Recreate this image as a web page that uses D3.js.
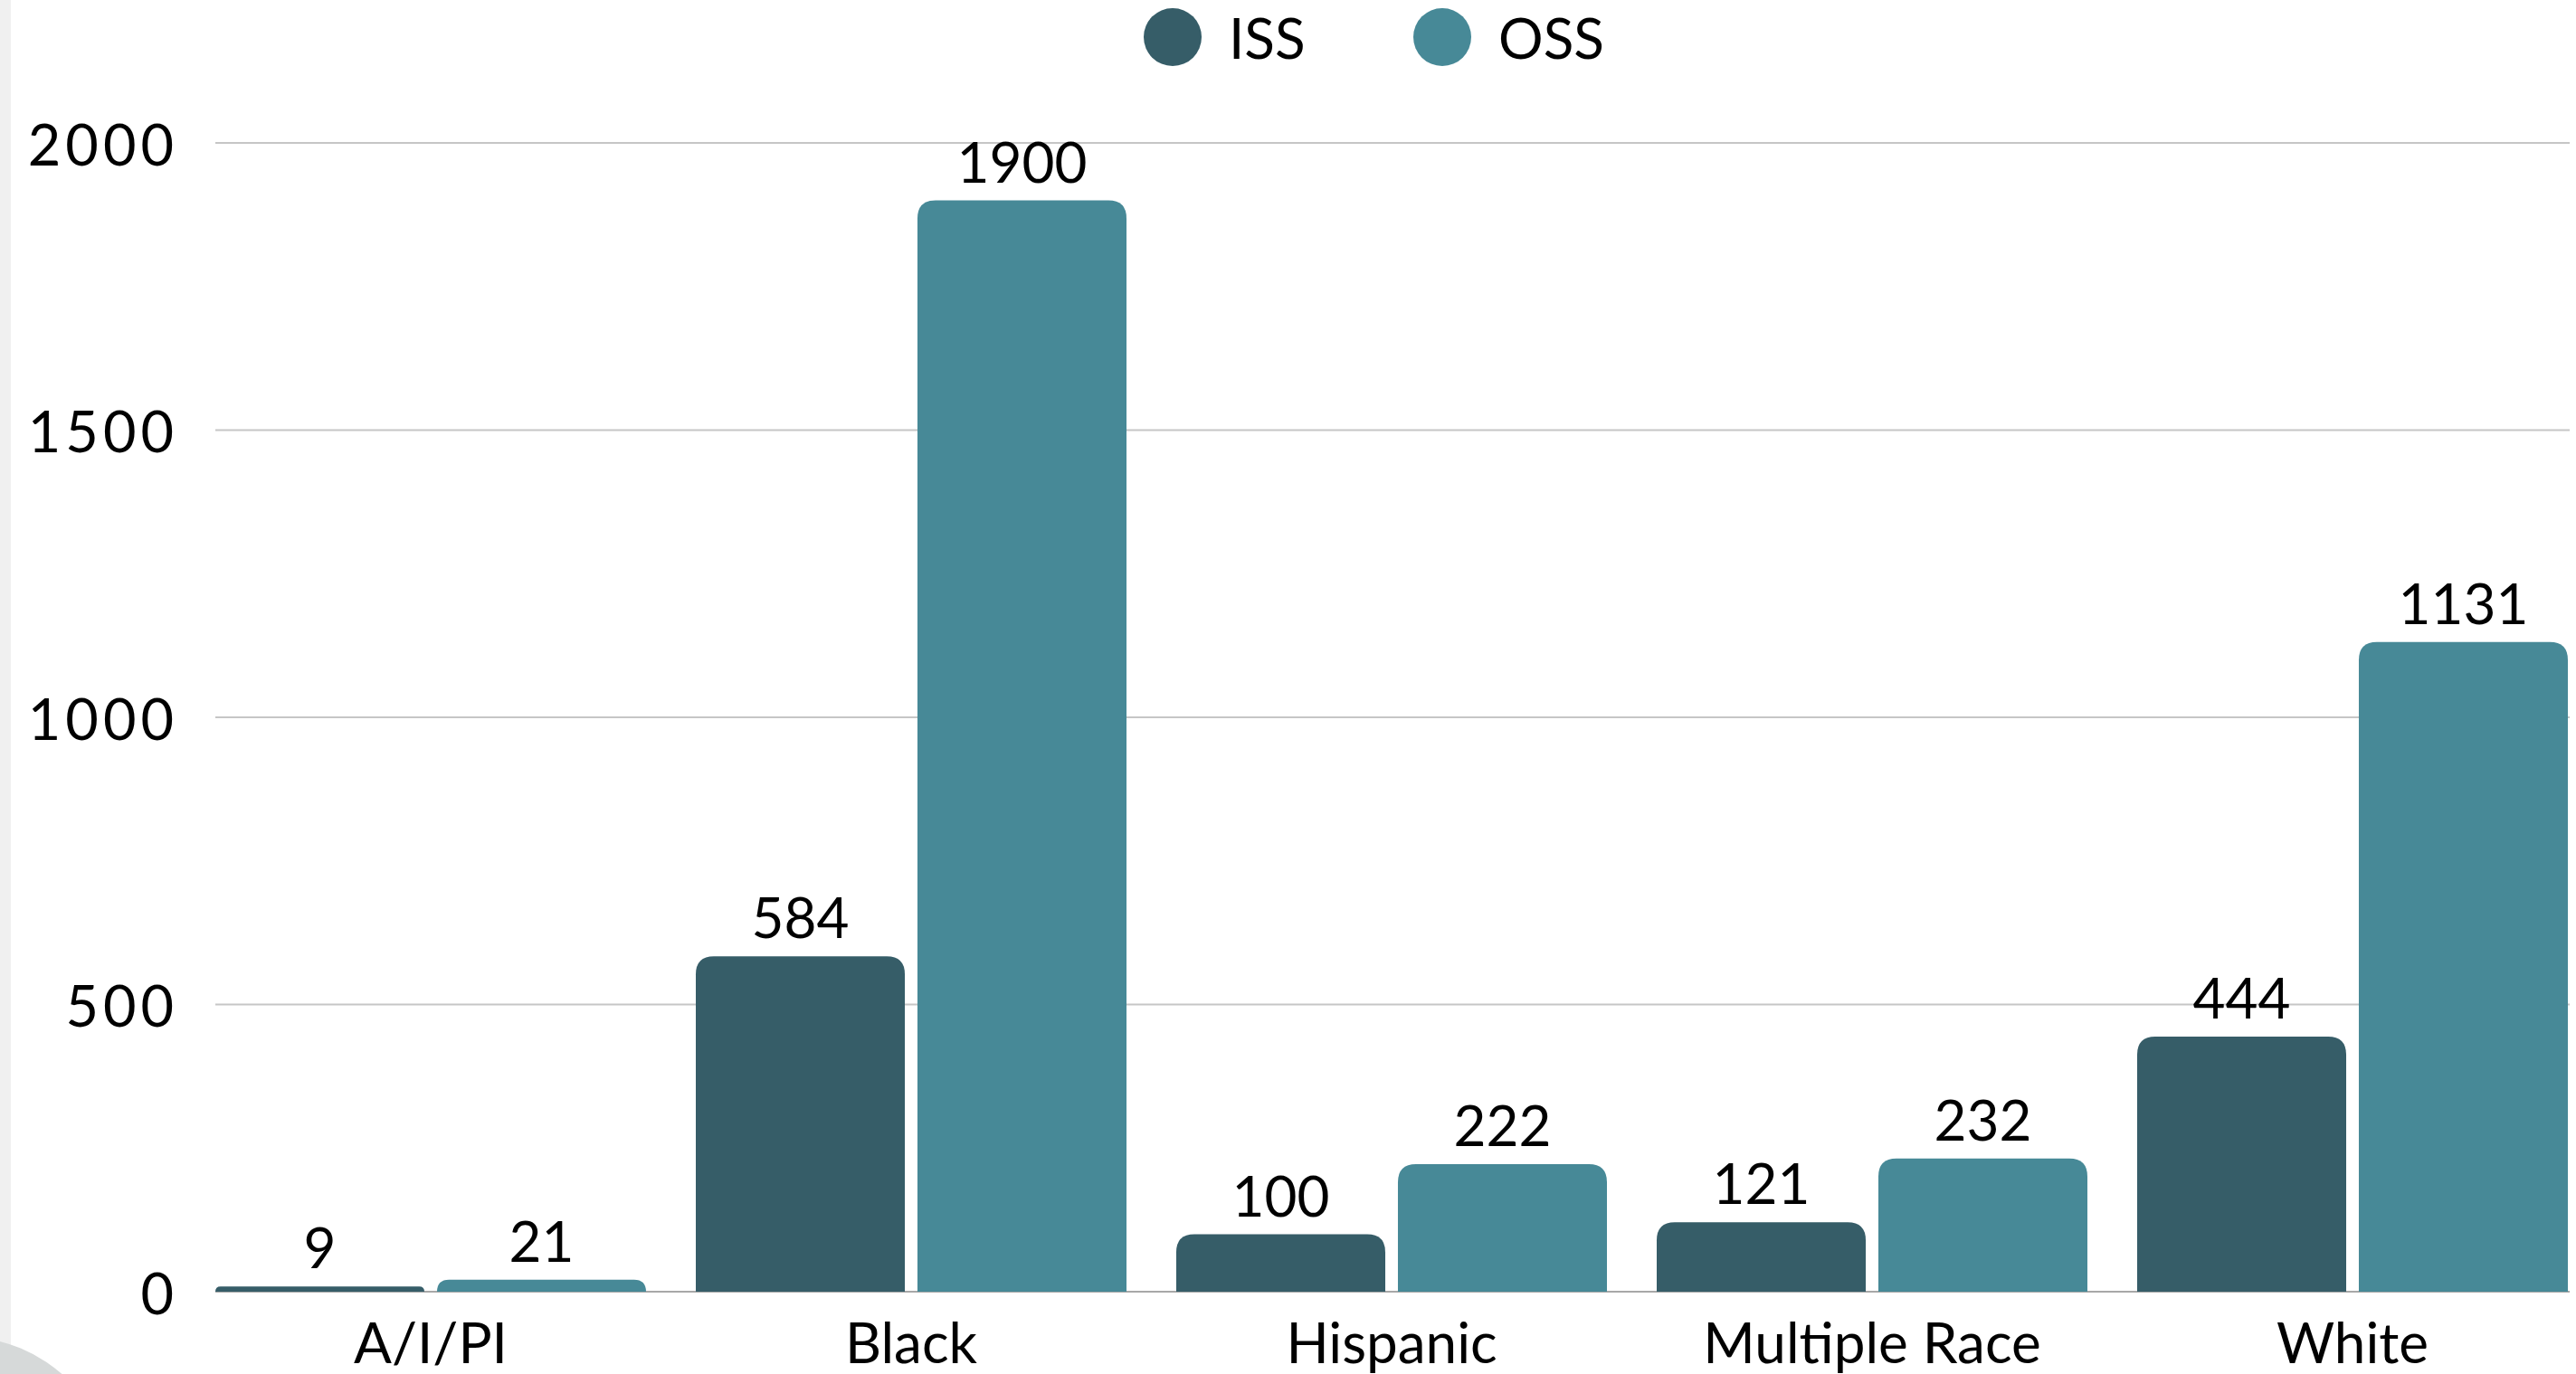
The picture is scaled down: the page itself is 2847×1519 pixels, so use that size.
<!DOCTYPE html>
<html>
<head>
<meta charset="utf-8">
<script src="https://cdn.jsdelivr.net/npm/d3@7"></script>
<style>
  html, body { margin: 0; padding: 0; background: #ffffff; }
  svg { display: block; font-family: Lato, "Open Sans", sans-serif; }
</style>
</head>
<body>
<svg id="chart" width="2847" height="1519"></svg>
<script>
// Suspensions by race: in-school (ISS) vs out-of-school (OSS)
const categories = ["A/I/PI", "Black", "Hispanic", "Multiple Race", "White"];
const seriesNames = ["ISS", "OSS"];
const issValues = [9, 584, 100, 121, 444];
const ossValues = [21, 1900, 222, 232, 1131];
const yTicks = [0, 500, 1000, 1500, 2000];
const seriesColors = ["#365d68", "#478997"];

const svg = d3.select("#chart");
const W = 2847, H = 1519;

// page decoration: thin grey strip on the left and a soft circle in the corner
svg.append("rect").attr("x", 0).attr("y", 0).attr("width", 12).attr("height", H).attr("fill", "#f0f0f0");
svg.append("circle").attr("cx", -40).attr("cy", 1642).attr("r", 164).attr("fill", "#d6d9d9");

const plotLeft = 238, plotRight = 2840, plotTop = 158, plotBottom = 1428;
const groupStep = 531;

const y = d3.scaleLinear().domain([0, 2000]).range([plotBottom, plotTop]);
const x0 = d3.scaleBand().domain(categories)
  .range([plotLeft, plotLeft + groupStep * categories.length]).paddingInner(0).paddingOuter(0);
const x1 = d3.scaleBand().domain(seriesNames).range([0, 476]).paddingInner(0.057).paddingOuter(0);
const color = d3.scaleOrdinal().domain(seriesNames).range(seriesColors);

// horizontal gridlines
svg.append("g").selectAll("line").data(yTicks).join("line")
  .attr("x1", plotLeft).attr("x2", plotRight)
  .attr("y1", d => y(d)).attr("y2", d => y(d))
  .attr("stroke", d => d === 0 ? "#a8a8a8" : "#c6c6c6")
  .attr("stroke-width", 2);

// y axis tick labels
svg.append("g").selectAll("text").data(yTicks).join("text")
  .attr("x", 197).attr("y", d => y(d))
  .attr("text-anchor", "end").attr("dominant-baseline", "central")
  .attr("font-size", 63).attr("letter-spacing", 5).attr("fill", "#000")
  .text(d => d);

// bars with rounded top corners
const rows = categories.map((c, i) => ({ cat: c, values: [
  { key: "ISS", value: issValues[i] },
  { key: "OSS", value: ossValues[i] }
]}));

function topRounded(x, yTop, w, yBase, r) {
  const h = yBase - yTop;
  const rr = Math.min(r, h, w / 2);
  return `M${x},${yBase}V${yTop + rr}Q${x},${yTop} ${x + rr},${yTop}H${x + w - rr}Q${x + w},${yTop} ${x + w},${yTop + rr}V${yBase}Z`;
}

const groups = svg.append("g").selectAll("g").data(rows).join("g")
  .attr("transform", d => `translate(${x0(d.cat)},0)`);

groups.selectAll("path").data(d => d.values).join("path")
  .attr("d", d => topRounded(x1(d.key), y(d.value), x1.bandwidth(), y(0), 20))
  .attr("fill", d => color(d.key));

groups.selectAll("text.val").data(d => d.values).join("text")
  .attr("class", "val")
  .attr("x", d => x1(d.key) + x1.bandwidth() / 2)
  .attr("y", d => y(d.value) - 20)
  .attr("text-anchor", "middle")
  .attr("font-size", 62).attr("fill", "#000")
  .text(d => d.value);

// category labels
svg.append("g").selectAll("text").data(categories).join("text")
  .attr("x", d => x0(d) + 238).attr("y", 1507)
  .attr("text-anchor", "middle")
  .attr("font-size", 62).attr("fill", "#000")
  .text(d => d);

// legend
const legend = svg.append("g").selectAll("g").data(seriesNames).join("g")
  .attr("transform", (d, i) => `translate(${[1296, 1594][i]},41)`);
legend.append("circle").attr("r", 32).attr("fill", d => color(d));
legend.append("text").attr("x", 62).attr("y", 0)
  .attr("dominant-baseline", "central")
  .attr("font-size", 62).attr("fill", "#000")
  .text(d => d);
</script>
</body>
</html>
